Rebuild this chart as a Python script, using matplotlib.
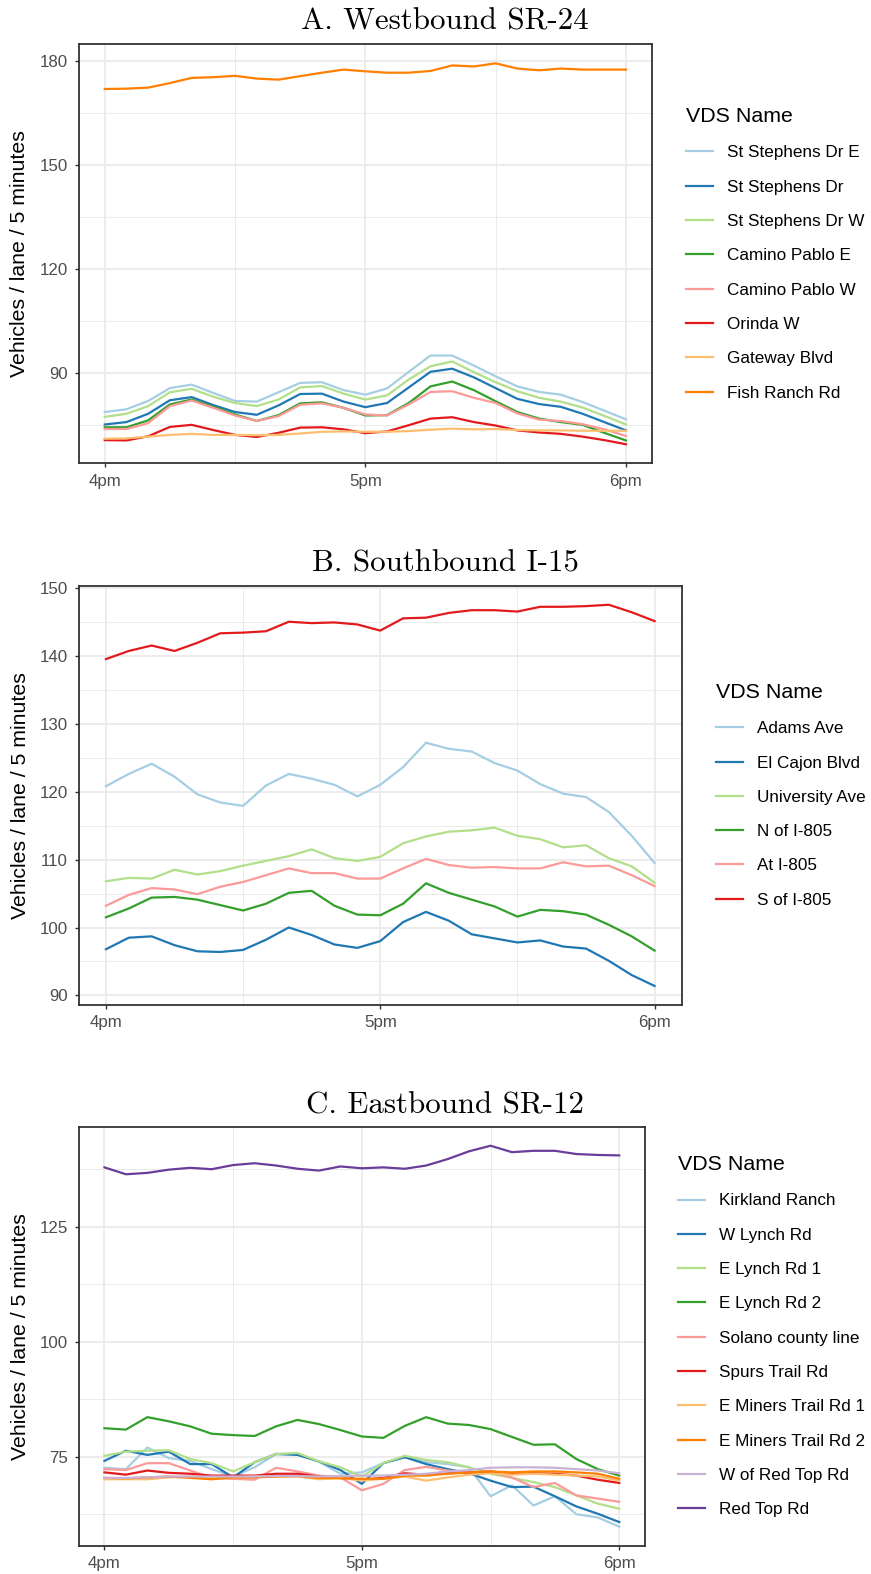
import matplotlib
matplotlib.use("Agg")
import matplotlib.pyplot as plt

plt.rcParams['font.family'] = ['Liberation Sans', 'DejaVu Sans']

# 5-minute bins from 4pm to 6pm
minutes = list(range(0, 121, 5))
hour_ticks = [0, 60, 120]
hour_labels = ['4pm', '5pm', '6pm']

# ColorBrewer "Paired"
paired = ['#A6CEE3', '#1F78B4', '#B2DF8A', '#33A02C', '#FB9A99',
          '#E31A1C', '#FDBF6F', '#FF7F00', '#CAB2D6', '#6A3D9A']

# --- A. Westbound SR-24 ---
sr24_names = ['St Stephens Dr E', 'St Stephens Dr', 'St Stephens Dr W', 'Camino Pablo E',
              'Camino Pablo W', 'Orinda W', 'Gateway Blvd', 'Fish Ranch Rd']
sr24_st_stephens_e = [78.7, 79.5, 81.9, 85.6, 86.6, 84.2, 81.9, 81.7, 84.4, 87.1, 87.3, 85.0, 83.7,
                      85.5, 90.3, 95.0, 95.0, 92.1, 89.0, 86.1, 84.5, 83.7, 81.6, 79.1, 76.6]
sr24_st_stephens = [75.1, 75.8, 78.2, 82.1, 83.0, 80.7, 78.7, 77.9, 80.6, 83.9, 84.0, 81.7, 80.1,
                    81.3, 85.8, 90.3, 91.2, 88.7, 85.6, 82.5, 81.0, 80.2, 78.2, 75.8, 73.4]
sr24_st_stephens_w = [77.3, 78.2, 80.4, 84.4, 85.4, 83.1, 81.3, 80.4, 82.3, 85.8, 86.2, 84.0, 82.3,
                      83.5, 88.1, 91.9, 93.3, 90.2, 87.3, 84.7, 82.8, 81.7, 80.0, 77.6, 75.1]
sr24_camino_pablo_e = [74.3, 74.3, 76.3, 80.9, 82.3, 80.2, 78.0, 76.1, 77.8, 81.2, 81.5, 79.9, 77.7,
                       77.8, 81.3, 86.1, 87.5, 85.0, 81.8, 78.7, 76.8, 75.8, 75.0, 72.7, 70.5]
sr24_camino_pablo_w = [73.8, 73.8, 75.5, 80.4, 82.0, 79.9, 77.7, 76.1, 77.5, 80.8, 81.2, 79.9, 78.0,
                       77.7, 80.9, 84.5, 84.7, 82.8, 81.3, 78.3, 76.5, 76.1, 75.2, 73.7, 71.8]
sr24_orinda_w = [70.6, 70.5, 71.7, 74.4, 75.0, 73.5, 72.1, 71.5, 72.7, 74.2, 74.3, 73.7, 72.6,
                 73.1, 74.9, 76.8, 77.2, 75.8, 74.8, 73.4, 72.8, 72.4, 71.6, 70.6, 69.4]
sr24_gateway_blvd = [71.0, 71.1, 71.6, 72.1, 72.4, 72.1, 72.1, 72.0, 72.1, 72.5, 73.0, 73.1, 73.0,
                     73.0, 73.2, 73.6, 73.9, 73.7, 73.8, 73.5, 73.4, 73.4, 73.3, 73.3, 73.3]
sr24_fish_ranch = [171.9, 172.0, 172.3, 173.6, 175.1, 175.3, 175.7, 174.9, 174.6, 175.6, 176.6, 177.5,
                   177.0, 176.6, 176.6, 177.1, 178.7, 178.4, 179.3, 177.8, 177.3, 177.8, 177.5, 177.5, 177.5]

# --- B. Southbound I-15 ---
i15_names = ['Adams Ave', 'El Cajon Blvd', 'University Ave', 'N of I-805', 'At I-805', 'S of I-805']
i15_adams = [120.8, 122.6, 124.1, 122.2, 119.6, 118.4, 117.9, 120.9, 122.6, 121.9, 121.0, 119.3, 121.0,
             123.6, 127.2, 126.3, 125.9, 124.2, 123.1, 121.1, 119.7, 119.2, 117.0, 113.5, 109.5]
i15_el_cajon = [96.8, 98.5, 98.7, 97.4, 96.5, 96.4, 96.7, 98.2, 100.0, 98.9, 97.5, 97.0, 98.0,
                100.8, 102.3, 101.0, 99.0, 98.4, 97.8, 98.1, 97.2, 96.9, 95.1, 93.0, 91.4]
i15_university = [106.8, 107.3, 107.2, 108.5, 107.8, 108.3, 109.1, 109.8, 110.5, 111.5, 110.2, 109.8, 110.4,
                  112.4, 113.4, 114.1, 114.3, 114.7, 113.5, 113.0, 111.8, 112.1, 110.2, 109.0, 106.6]
i15_n_of_805 = [101.5, 102.8, 104.4, 104.5, 104.1, 103.3, 102.5, 103.5, 105.1, 105.4, 103.2, 101.9, 101.8,
                103.5, 106.5, 105.1, 104.1, 103.1, 101.6, 102.6, 102.4, 101.9, 100.4, 98.7, 96.6]
i15_at_805 = [103.2, 104.8, 105.8, 105.6, 104.9, 106.0, 106.7, 107.7, 108.7, 108.0, 108.0, 107.2, 107.2,
              108.7, 110.1, 109.2, 108.8, 108.9, 108.7, 108.7, 109.6, 109.0, 109.1, 107.7, 106.1]
i15_s_of_805 = [139.5, 140.7, 141.5, 140.7, 141.9, 143.3, 143.4, 143.6, 145.0, 144.8, 144.9, 144.6, 143.7,
                145.5, 145.6, 146.3, 146.7, 146.7, 146.5, 147.2, 147.2, 147.3, 147.5, 146.4, 145.1]

# --- C. Eastbound SR-12 ---
sr12_names = ['Kirkland Ranch', 'W Lynch Rd', 'E Lynch Rd 1', 'E Lynch Rd 2', 'Solano county line',
              'Spurs Trail Rd', 'E Miners Trail Rd 1', 'E Miners Trail Rd 2', 'W of Red Top Rd', 'Red Top Rd']
sr12_kirkland = [72.6, 72.3, 77.0, 74.7, 74.1, 72.3, 70.7, 72.7, 75.6, 75.6, 73.9, 71.3, 71.6,
                 73.6, 74.9, 73.8, 73.4, 72.7, 66.4, 68.8, 64.4, 66.4, 62.5, 61.8, 59.8]
sr12_w_lynch = [74.1, 76.3, 75.4, 76.1, 73.4, 73.4, 70.5, 73.8, 75.6, 75.4, 74.0, 72.1, 69.1,
                73.6, 74.9, 73.4, 72.3, 71.4, 69.8, 68.4, 68.5, 66.4, 64.2, 62.6, 60.8]
sr12_e_lynch_1 = [75.2, 76.1, 76.3, 76.4, 74.5, 73.6, 71.8, 73.8, 75.6, 75.8, 74.0, 72.7, 70.7,
                  73.6, 75.2, 74.3, 73.8, 72.7, 71.3, 70.4, 69.5, 68.4, 66.6, 64.8, 63.7]
sr12_e_lynch_2 = [81.2, 80.9, 83.6, 82.7, 81.6, 80.0, 79.7, 79.5, 81.6, 83.0, 82.1, 80.8, 79.4,
                  79.1, 81.7, 83.6, 82.2, 81.9, 81.0, 79.3, 77.6, 77.7, 74.5, 72.3, 70.9]
sr12_solano = [72.3, 72.1, 73.6, 73.6, 72.0, 70.4, 70.2, 70.0, 72.6, 71.8, 70.9, 70.5, 67.7,
               69.1, 72.1, 72.8, 72.0, 71.6, 71.6, 70.5, 68.4, 69.3, 66.6, 65.9, 65.2]
sr12_spurs = [71.6, 71.1, 72.0, 71.5, 71.3, 70.9, 70.9, 70.9, 71.3, 71.3, 70.7, 70.4, 70.0,
              70.4, 71.4, 71.1, 71.4, 71.6, 71.8, 71.3, 71.4, 71.3, 70.9, 70.0, 69.3]
sr12_e_miners_1 = [70.1, 70.1, 70.1, 70.5, 70.7, 70.5, 70.5, 70.7, 70.7, 70.7, 70.1, 70.4, 69.8,
                   70.2, 70.7, 69.8, 70.5, 71.1, 71.4, 71.1, 71.3, 71.1, 70.9, 70.7, 69.8]
sr12_e_miners_2 = [70.4, 70.3, 70.5, 70.7, 70.4, 70.1, 70.5, 70.5, 70.7, 70.8, 70.4, 70.3, 70.2,
                   70.2, 70.9, 70.9, 71.3, 71.6, 71.8, 71.6, 71.8, 71.8, 71.6, 71.3, 70.2]
sr12_w_of_red_top = [70.4, 70.4, 70.5, 70.7, 70.7, 70.7, 70.7, 70.7, 70.8, 70.8, 70.7, 70.8, 70.9,
                     70.9, 71.1, 71.3, 71.8, 72.1, 72.6, 72.7, 72.7, 72.6, 72.3, 72.0, 71.4]
sr12_red_top = [137.9, 136.4, 136.7, 137.4, 137.8, 137.5, 138.4, 138.8, 138.3, 137.6, 137.2, 138.1, 137.7,
                137.9, 137.6, 138.3, 139.7, 141.4, 142.6, 141.2, 141.5, 141.5, 140.8, 140.6, 140.5]

W, H = 871, 1574


def px_rect(left, top, right, bottom):
    return [left / W, 1 - bottom / H, (right - left) / W, (bottom - top) / H]


panels = [
    dict(title='A. Westbound SR-24', title_y=29, names=sr24_names,
         series=[sr24_st_stephens_e, sr24_st_stephens, sr24_st_stephens_w, sr24_camino_pablo_e,
                 sr24_camino_pablo_w, sr24_orinda_w, sr24_gateway_blvd, sr24_fish_ranch],
         yticks=[90, 120, 150, 180], yminor=[75, 105, 135, 165],
         box=(78.7, 44.3, 652, 463.3), legend_x=686),
    dict(title='B. Southbound I-15', title_y=572, names=i15_names,
         series=[i15_adams, i15_el_cajon, i15_university, i15_n_of_805, i15_at_805, i15_s_of_805],
         yticks=[90, 100, 110, 120, 130, 140, 150], yminor=[95, 105, 115, 125, 135, 145],
         box=(78.5, 585.7, 682, 1005), legend_x=716),
    dict(title='C. Eastbound SR-12', title_y=1113, names=sr12_names,
         series=[sr12_kirkland, sr12_w_lynch, sr12_e_lynch_1, sr12_e_lynch_2, sr12_solano,
                 sr12_spurs, sr12_e_miners_1, sr12_e_miners_2, sr12_w_of_red_top, sr12_red_top],
         yticks=[75, 100, 125], yminor=[62.5, 87.5, 112.5, 137.5],
         box=(78.7, 1126.7, 645, 1545.7), legend_x=678),
]

fig = plt.figure(figsize=(W / 100, H / 100), dpi=100)

for p in panels:
    left, top, right, bottom = p['box']
    ax = fig.add_axes(px_rect(left, top, right, bottom))

    for name, vals, col in zip(p['names'], p['series'], paired):
        ax.plot(minutes, vals, color=col, lw=1.6, label=name, solid_joinstyle='round')

    # ggplot-style 5% expansion
    lo = min(min(s) for s in p['series'])
    hi = max(max(s) for s in p['series'])
    pad = 0.05 * (hi - lo)
    ax.set_ylim(lo - pad, hi + pad)
    ax.set_xlim(-6, 126)

    ax.set_xticks(hour_ticks)
    ax.set_xticklabels(hour_labels)
    ax.set_xticks([30, 90], minor=True)
    ax.set_yticks(p['yticks'])
    ax.set_yticks(p['yminor'], minor=True)

    ax.grid(which='major', color='#ebebeb', lw=1.3)
    ax.grid(which='minor', color='#ebebeb', lw=0.7)
    ax.set_axisbelow(True)
    for sp in ax.spines.values():
        sp.set_color('#333333')
        sp.set_linewidth(1.3)
    ax.tick_params(which='major', length=3, width=1, color='#333333',
                   labelsize=12.2, labelcolor='#4d4d4d', pad=4.5)
    ax.tick_params(which='minor', length=0)

    ax.set_ylabel('Vehicles / lane / 5 minutes', fontsize=15.3, color='black', va='center')
    ax.yaxis.set_label_coords((20 - left) / (right - left), 0.5)

    fig.text(445 / W, 1 - p['title_y'] / H, p['title'], family='cmr10',
             fontsize=22.3, ha='center', va='baseline')

    fig.legend(*ax.get_legend_handles_labels(), loc='center left',
               bbox_to_anchor=(p['legend_x'] / W, 1 - (top + bottom) / 2 / H),
               frameon=False, title='VDS Name', fontsize=12.3, title_fontsize=15.4,
               alignment='left', handlelength=1.6, handletextpad=0.8,
               labelspacing=1.13, borderpad=0, borderaxespad=0)

fig.savefig('out.png', dpi=100)
